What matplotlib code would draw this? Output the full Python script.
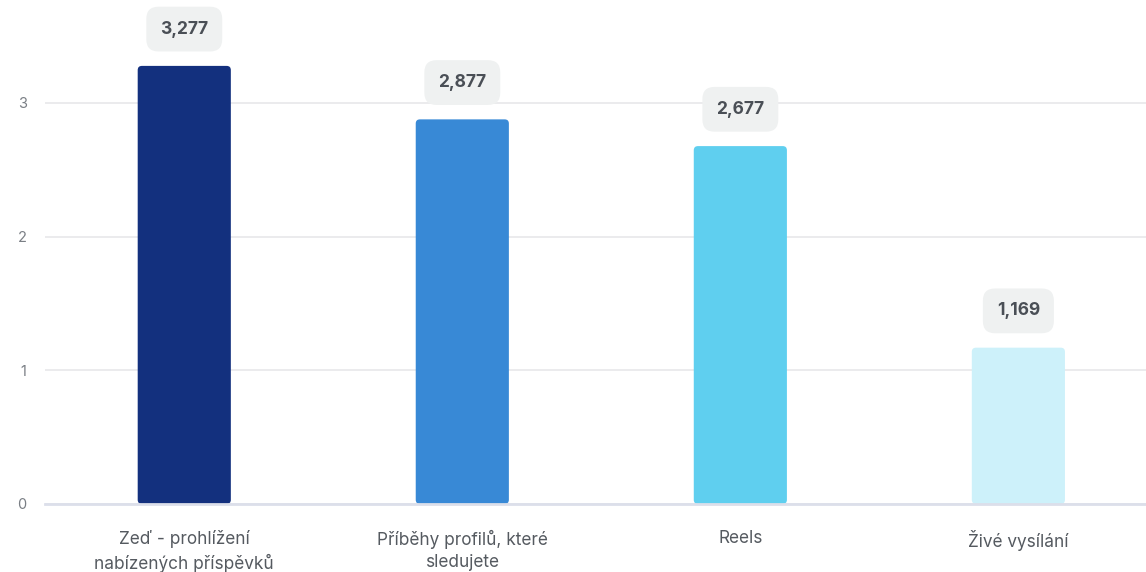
import matplotlib.pyplot as plt
from matplotlib.patches import FancyBboxPatch

plt.rcParams['font.family'] = ['Inter', 'DejaVu Sans']

# usage of the app sections
categories = ['Zeď - prohlížení\nnabízených příspěvků',
              'Příběhy profilů, které\nsledujete',
              'Reels',
              'Živé vysílání']
values = [3.277, 2.877, 2.677, 1.169]
value_labels = ['3,277', '2,877', '2,677', '1,169']
colors = ['#13307e', '#3889d6', '#5fcfef', '#cdf1fa']

fig = plt.figure(figsize=(11.46, 5.72), dpi=100)
ax = fig.add_axes([0.039, 0.119, 0.961, 0.881])

x = list(range(len(categories)))
bars = ax.bar(x, values, width=0.335, color=colors, zorder=3)

# swap plain bars for ones with slightly rounded corners
for b in bars:
    rounded = FancyBboxPatch((b.get_x(), b.get_y()), b.get_width(), b.get_height(),
                             boxstyle='round,pad=0,rounding_size=0.015',
                             mutation_aspect=2.08, facecolor=b.get_facecolor(),
                             edgecolor='none', zorder=3)
    b.remove()
    ax.add_patch(rounded)

for xi, v, lab in zip(x, values, value_labels):
    ax.annotate(lab, (xi, v), xytext=(0, 26.5), textcoords='offset points',
                ha='center', va='center', fontsize=12.5, fontweight='bold',
                color='#4a4f56',
                bbox=dict(boxstyle='round,pad=0.8,rounding_size=0.7',
                          facecolor='#eff1f1', edgecolor='none'))

ax.set_xlim(-0.502, 3.459)
ax.set_ylim(0, 3.77)
ax.set_yticks([0, 1, 2, 3])
ax.set_xticks(x)
ax.set_xticklabels(categories, fontsize=12.4, color='#555a60', linespacing=1.38)
ax.tick_params(axis='x', length=0, pad=19)
ax.tick_params(axis='y', length=0, pad=13, labelsize=10.5, labelcolor='#7a7f85')

ax.grid(axis='y', color='#e8e8ea', linewidth=1.2, zorder=0)
ax.set_axisbelow(True)
for s in ['top', 'right', 'left']:
    ax.spines[s].set_visible(False)
ax.spines['bottom'].set_color('#dcdfea')
ax.spines['bottom'].set_linewidth(2)
ax.spines['bottom'].set_zorder(4)

fig.savefig('out.png', dpi=100, facecolor='white')
